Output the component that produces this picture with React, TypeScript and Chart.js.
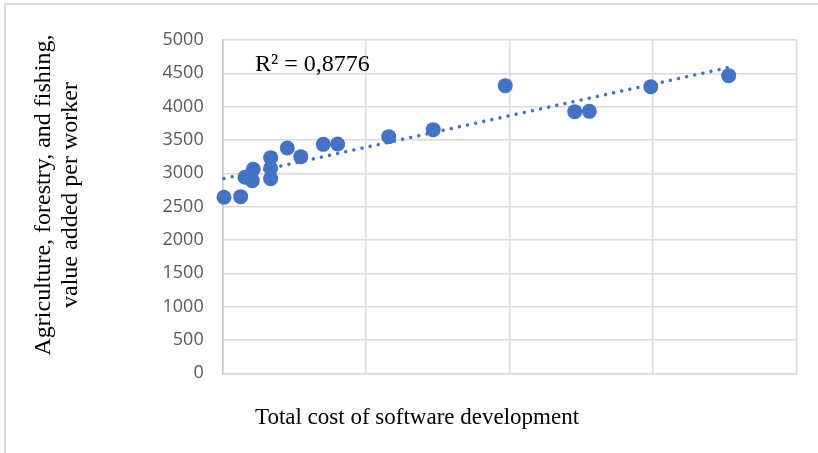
import React, { useEffect, useRef } from "react";
import { Chart, registerables } from "chart.js";

Chart.register(...registerables);

// Data
const xValues = [9, 125, 155, 206, 213, 334, 334, 334, 450, 544, 701, 801, 1157, 1467, 1969, 2453, 2555, 2983, 3526];
const yValues = [2640, 2650, 2940, 2890, 3060, 3235, 3075, 2920, 3380, 3250, 3435, 3440, 3550, 3655, 4315, 3925, 3930, 4300, 4465];
const yTickLabels = ["0", "500", "1000", "1500", "2000", "2500", "3000", "3500", "4000", "4500", "5000"];
const xTitle = "Total cost of software development";
const yTitleLines = ["Agriculture, forestry, and fishing,", "value added per worker"];
const rSquaredLabel = "R² = 0,8776";

const BLUE = "#4472C4";
const GRID = "#d9d9d9";

function linearFit(xs: number[], ys: number[]) {
  const n = xs.length;
  const mx = xs.reduce((a, b) => a + b, 0) / n;
  const my = ys.reduce((a, b) => a + b, 0) / n;
  let sxy = 0, sxx = 0;
  for (let i = 0; i < n; i++) {
    sxy += (xs[i] - mx) * (ys[i] - my);
    sxx += (xs[i] - mx) * (xs[i] - mx);
  }
  const slope = sxy / sxx;
  return { slope, intercept: my - slope * mx };
}

export default function App() {
  const canvasRef = useRef<HTMLCanvasElement | null>(null);

  useEffect(() => {
    const canvas = canvasRef.current;
    if (!canvas) return;
    const fit = linearFit(xValues, yValues);
    const xMin = Math.min(...xValues);
    const xMax = Math.max(...xValues);
    const trend = [
      { x: xMin, y: fit.intercept + fit.slope * xMin },
      { x: xMax, y: fit.intercept + fit.slope * xMax },
    ];
    const points = xValues.map((x, i) => ({ x, y: yValues[i] }));

    const textPlugin = {
      id: "texts",
      beforeDraw(chart: any) {
        const ctx = chart.ctx;
        ctx.save();
        ctx.fillStyle = GRID;
        ctx.fillRect(4, 3, 818, 2);
        ctx.fillRect(4, 3, 2, 453);
        ctx.restore();
      },
      afterDraw(chart: any) {
        const ctx = chart.ctx;
        ctx.save();
        ctx.fillStyle = "#000000";
        ctx.font = '24px "Liberation Serif"';
        ctx.textAlign = "left";
        ctx.textBaseline = "alphabetic";
        ctx.fillText(rSquaredLabel, 255, 71);

        ctx.font = '23px "Liberation Serif"';
        ctx.textAlign = "center";
        ctx.fillText(xTitle, 417, 424);

        ctx.font = '24px "Liberation Serif"';
        ctx.textBaseline = "middle";
        const xs = [44, 71];
        yTitleLines.forEach((line, i) => {
          ctx.save();
          ctx.translate(xs[i], 195);
          ctx.rotate(-Math.PI / 2);
          ctx.fillText(line, 0, 0);
          ctx.restore();
        });
        ctx.restore();
      },
    };

    const chart = new Chart(canvas, {
      type: "scatter",
      data: {
        datasets: [
          {
            type: "line",
            data: trend,
            borderColor: BLUE,
            borderWidth: 3.5,
            borderDash: [0.01, 8.3],
            borderCapStyle: "round",
            pointRadius: 0,
            fill: false,
            clip: false,
            order: 0,
          } as any,
          {
            data: points,
            backgroundColor: BLUE,
            borderWidth: 0,
            pointRadius: 7.5,
            pointHoverRadius: 7.5,
            clip: false,
            order: 1,
          } as any,
        ],
      },
      options: {
        responsive: false,
        maintainAspectRatio: false,
        devicePixelRatio: 1,
        animation: false,
        events: [],
        layout: { padding: { left: 0, right: 21.3, top: 40, bottom: 0 } },
        plugins: { legend: { display: false }, tooltip: { enabled: false } },
        scales: {
          x: {
            type: "linear",
            min: 0,
            max: 4000,
            ticks: { display: false, stepSize: 1000 },
            grid: { color: GRID, drawTicks: false, lineWidth: 1.5 },
            border: { color: GRID, width: 1.5 },
            afterFit: (s: any) => {
              s.height = 453 - 373.3;
            },
          },
          y: {
            min: 0,
            max: 5000,
            ticks: {
              stepSize: 500,
              padding: 19,
              color: "#595959",
              font: { family: "Open Sans", size: 18 },
              callback: (_v: any, i: number) => yTickLabels[i],
            },
            grid: { color: GRID, drawTicks: false, lineWidth: 1.5 },
            border: { color: "#c8c8c8", width: 1.5 },
            afterFit: (s: any) => {
              s.width = 222.7;
            },
          },
        },
      },
      plugins: [textPlugin],
    });
    return () => chart.destroy();
  }, []);

  return (
    <div style={{ position: "absolute", left: 0, top: 0, width: 818, height: 453, background: "#fff" }}>
      <canvas ref={canvasRef} width={818} height={453} style={{ display: "block" }} />
    </div>
  );
}
